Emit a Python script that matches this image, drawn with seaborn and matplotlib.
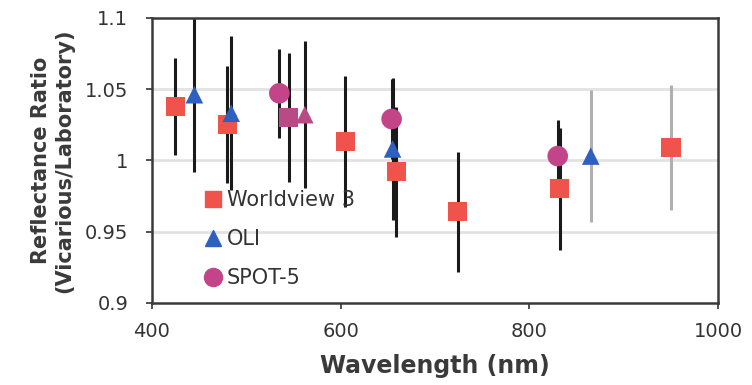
import matplotlib
matplotlib.use("Agg")
import matplotlib.pyplot as plt
from matplotlib.lines import Line2D
from matplotlib.ticker import FuncFormatter
import seaborn as sns

# Worldview 3
wv3_wl = [425, 480, 545, 605, 659, 724, 832, 950]
wv3_ratio = [1.038, 1.025, 1.030, 1.013, 0.992, 0.964, 0.980, 1.009]
wv3_err = [0.034, 0.041, 0.045, 0.046, 0.0455, 0.042, 0.043, 0.0435]

# OLI
oli_wl = [445, 484, 562, 655, 865]
oli_ratio = [1.046, 1.033, 1.032, 1.008, 1.003]
oli_err = [0.054, 0.054, 0.0515, 0.050, 0.046]

# SPOT-5
spot_wl = [535, 654, 830]
spot_ratio = [1.047, 1.029, 1.003]
spot_err = [0.031, 0.028, 0.025]

RED = "#f0534b"
BLUE = "#2f5fbf"
MAG = "#c4448a"
TINT = "#b94a86"
GRAY_BAR = "#b0b0b0"

sns.set_theme(style="white")
plt.rcParams["font.family"] = ["DejaVu Sans"]

fig = plt.figure(figsize=(7.52, 3.85), dpi=100)
ax = fig.add_axes([0.202, 0.213, 0.753, 0.741])

# light horizontal gridlines
for yv in [0.95, 1.0, 1.05]:
    ax.axhline(yv, color="#e2e2e2", lw=2, zorder=0)

series = [
    ("Worldview 3", wv3_wl, wv3_ratio, wv3_err, "s", RED, 190,
     ["k", "k", "k", "k", "k", "k", "k", GRAY_BAR],
     [RED, RED, TINT, RED, RED, RED, RED, RED]),
    ("OLI", oli_wl, oli_ratio, oli_err, "^", BLUE, 160,
     ["k", "k", "k", "k", GRAY_BAR],
     [BLUE, BLUE, TINT, BLUE, BLUE]),
    ("SPOT-5", spot_wl, spot_ratio, spot_err, "o", MAG, 220,
     ["k", "k", "k"],
     [MAG, MAG, MAG]),
]

# error bars
for name, wl, r, e, mk, col, sz, bar_cols, pt_cols in series:
    for xi, yi, ei, bc in zip(wl, r, e, bar_cols):
        ax.errorbar(xi, yi, yerr=ei, fmt="none", ecolor=bc, elinewidth=2.2,
                    capsize=0, zorder=2)

# markers
for name, wl, r, e, mk, col, sz, bar_cols, pt_cols in series:
    sns.scatterplot(x=wl, y=r, marker=mk, color=col, s=sz, linewidth=0,
                    ax=ax, zorder=3, legend=False)
    ax.collections[-1].set_facecolor(pt_cols)

ax.set_xlim(400, 1000)
ax.set_ylim(0.9, 1.1)
ax.set_xticks([400, 600, 800, 1000])
ax.set_yticks([0.9, 0.95, 1.0, 1.05, 1.1])
ax.yaxis.set_major_formatter(FuncFormatter(lambda v, p: f"{v:g}"))
ax.tick_params(axis="both", labelsize=14, colors="#333333", length=4,
               width=1.2, direction="out", bottom=True, left=True)
ax.tick_params(axis="x", pad=10)
ax.tick_params(axis="y", pad=13)
for sp in ax.spines.values():
    sp.set_color("#3a3a3a")
    sp.set_linewidth(1.8)

ax.set_xlabel("Wavelength (nm)", fontsize=17, fontweight="bold",
              color="#3a3a3a", labelpad=9)
ax.set_ylabel("Reflectance Ratio\n(Vicarious/Laboratory)", fontsize=15,
              fontweight="bold", color="#3a3a3a", labelpad=8,
              linespacing=1.15)

handles = [
    Line2D([], [], marker="s", color=RED, ls="none", markersize=12),
    Line2D([], [], marker="^", color=BLUE, ls="none", markersize=11),
    Line2D([], [], marker="o", color=MAG, ls="none", markersize=13),
]
leg = ax.legend(handles, ["Worldview 3", "OLI", "SPOT-5"], loc="upper left",
                bbox_to_anchor=(0.09, 0.395), frameon=False, fontsize=15,
                handlelength=1.0, handletextpad=0.15, labelspacing=0.9,
                borderpad=0, borderaxespad=0)
for t in leg.get_texts():
    t.set_color("#333333")

fig.savefig("out.png", dpi=100)
